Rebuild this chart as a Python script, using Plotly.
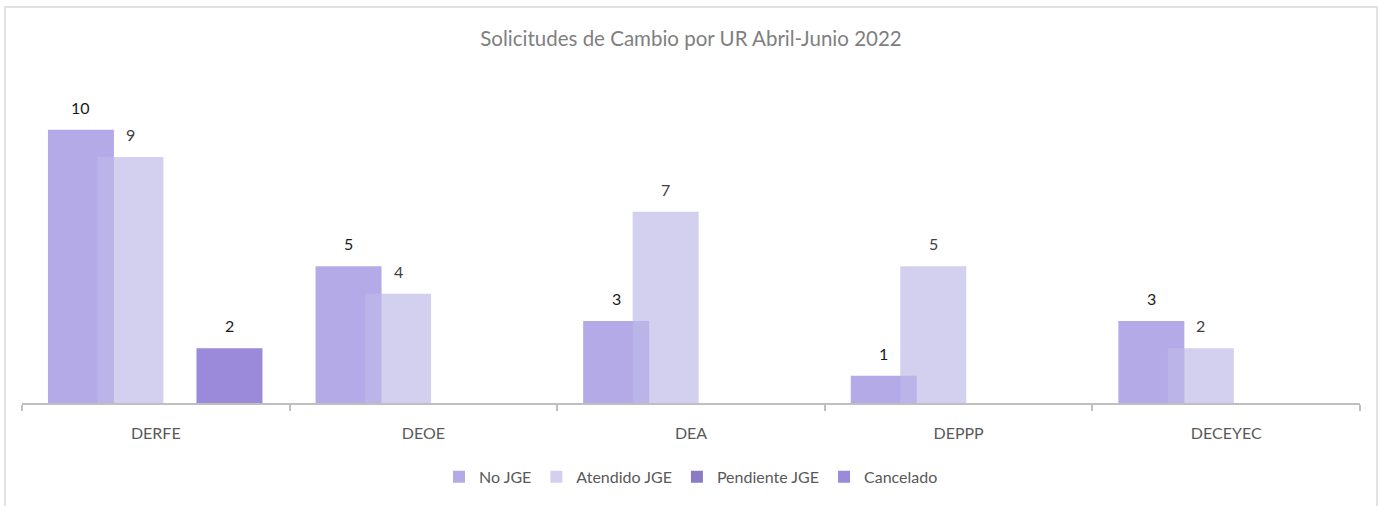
import plotly.graph_objects as go

categories = ["DERFE", "DEOE", "DEA", "DEPPP", "DECEYEC"]
series_names = ["No JGE", "Atendido JGE", "Pendiente JGE", "Cancelado"]
no_jge = [10, 5, 3, 1, 3]
atendido_jge = [9, 4, 7, 5, 2]
pendiente_jge = [0, 0, 0, 0, 0]
cancelado = [2, 0, 0, 0, 0]
title_text = "Solicitudes de Cambio por UR Abril-Junio 2022"

series_values = [no_jge, atendido_jge, pendiente_jge, cancelado]
colors = ["#b4aae8", "rgba(190,184,232,0.68)", "#8a7cc4", "#9a8ad9"]
label_colors = ["#1a1a1a", "#404040", "#1a1a1a", "#1a1a1a"]

W, H = 1384, 506
L, R, T, B = 22, 24, 75, 98
plot_w = W - L - R
plot_h = H - T - B

bar_w = 0.2466
step = 0.185
start = -0.403

fig = go.Figure()
annotations = []
xs = list(range(len(categories)))
for k, (name, vals) in enumerate(zip(series_names, series_values)):
    off = start + k * step
    fig.add_trace(go.Bar(
        x=xs, y=vals, name=name,
        marker=dict(color=colors[k], line=dict(width=0)),
        width=bar_w, offset=off,
    ))
    for i, v in enumerate(vals):
        if v:
            annotations.append(dict(
                x=i + off + bar_w / 2, y=v, xref="x", yref="y",
                text=str(v), showarrow=False, yanchor="bottom", yshift=11,
                font=dict(family="Lato", size=16, color=label_colors[k]),
            ))

base_px = T + plot_h
shapes = [dict(type="rect", xref="paper", yref="paper",
               x0=(5 - L) / plot_w, x1=(1377 - L) / plot_w,
               y0=(base_px - 530) / plot_h,
               y1=(base_px - 6) / plot_h,
               line=dict(color="#d9d9d9", width=1.5), layer="below")]

fig.update_layout(
    width=W, height=H,
    margin=dict(l=L, r=R, t=T, b=B),
    paper_bgcolor="white", plot_bgcolor="rgba(0,0,0,0)",
    barmode="overlay",
    title=dict(text=title_text, x=691 / W, xanchor="center", y=1 - 39 / H, yanchor="middle",
               font=dict(family="Lato", size=20.5, color="#7f7f7f")),
    font=dict(family="Lato", color="#595959"),
    xaxis=dict(
        tickmode="array", tickvals=xs, ticktext=categories,
        range=[-0.5, len(categories) - 0.5],
        showline=True, linecolor="#bfbfbf", linewidth=1.5,
        ticks="", ticklabelstandoff=15,
        showgrid=False, zeroline=False,
        tickfont=dict(family="Lato", size=16, color="#595959"),
        minor=dict(tickmode="array", tickvals=[i - 0.5 for i in range(len(categories) + 1)],
                   ticks="outside", ticklen=6, tickcolor="#bfbfbf", tickwidth=1.5, showgrid=False),
    ),
    yaxis=dict(range=[0, 12], visible=False, showgrid=False, zeroline=False),
    legend=dict(orientation="h", x=(691 - L) / plot_w, xanchor="center", y=-75 / plot_h, yanchor="middle",
                font=dict(family="Lato", size=16, color="#595959"),
                itemwidth=30, traceorder="normal"),
    annotations=annotations,
    shapes=shapes,
    showlegend=True,
)

fig.write_html("out.html", config={"displayModeBar": False},
               post_script="document.body.style.margin='0';")
